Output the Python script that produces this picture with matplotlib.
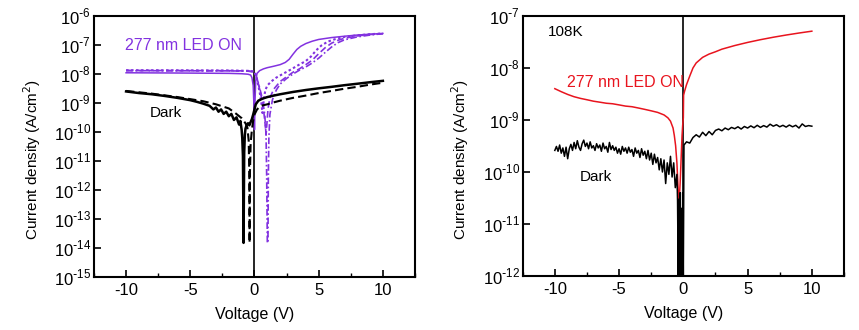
import matplotlib
matplotlib.use("Agg")
import matplotlib.pyplot as plt
from matplotlib.ticker import MultipleLocator, NullLocator, FuncFormatter
import numpy as np

plt.rcParams["font.family"] = ["Liberation Sans", "DejaVu Sans"]
plt.rcParams["axes.unicode_minus"] = False

PURPLE = "#8232E0"
RED = "#E8141E"

# ---- 左圖：dark (black) ----
dark_solid_v = [-10, -9, -8, -7, -6, -5, -4.5, -4, -3.5, -3.2, -3.0, -2.8, -2.6, -2.4, -2.2, -2.0,
                -1.8, -1.6, -1.4, -1.2, -1.1, -1.0, -0.95, -0.9, -0.87, -0.85, -0.83, -0.8, -0.75,
                -0.7, -0.6, -0.5, -0.4, -0.3, -0.2, -0.1, 0.0, 0.1, 0.3, 0.6, 1.0, 1.5, 2, 3, 4, 5,
                6, 7, 8, 9, 10]
dark_solid_j = [2.5e-9, 2.2e-9, 2.0e-9, 1.75e-9, 1.5e-9, 1.25e-9, 1.1e-9, 9.5e-10, 8e-10, 6e-10, 7e-10,
                5e-10, 6e-10, 4.2e-10, 5e-10, 3.5e-10, 4.2e-10, 2.6e-10, 3.2e-10, 1.8e-10, 2.4e-10,
                1.2e-10, 6e-11, 1.5e-11, 3e-13, 1.5e-14, 3e-13, 2e-11, 8e-11, 1.3e-10, 1.8e-10,
                2e-10, 1.7e-10, 2.2e-10, 2.8e-10, 4e-10, 6e-10, 9e-10, 1.2e-9, 1.4e-9, 1.6e-9,
                1.8e-9, 2.0e-9, 2.4e-9, 2.8e-9, 3.2e-9, 3.6e-9, 4.1e-9, 4.6e-9, 5.2e-9, 5.8e-9]

dark_dash_v = [-10, -8, -6, -4, -3, -2, -1.5, -1.0, -0.7, -0.55, -0.45, -0.4, -0.38, -0.36, -0.3,
               -0.2, -0.1, 0.0, 0.2, 0.5, 1.0, 1.5, 2, 3, 4, 5, 6, 7, 8, 9, 10]
dark_dash_j = [2.6e-9, 2.1e-9, 1.6e-9, 1.15e-9, 9e-10, 6.5e-10, 4.5e-10, 3e-10, 2e-10, 1.4e-10,
               5e-11, 3e-12, 1.5e-14, 3e-12, 4e-11, 1.2e-10, 2.5e-10, 4e-10, 6e-10, 8e-10, 9e-10,
               1.05e-9, 1.2e-9, 1.5e-9, 1.8e-9, 2.2e-9, 2.6e-9, 3.1e-9, 3.6e-9, 4.3e-9, 5e-9]

# ---- 左圖：277 nm LED ON (purple) ----
on_solid_v = [-10, -6, -2, -1, -0.5, -0.3, -0.2, -0.1, -0.05, 0.0, 0.05, 0.1, 0.2, 0.4, 0.7, 1.0,
              1.5, 2.0, 2.4, 2.7, 3.0, 3.3, 3.6, 4.0, 4.5, 5, 6, 7, 8, 9, 10]
on_solid_j = [1.1e-8, 1.08e-8, 1.05e-8, 1.02e-8, 9.8e-9, 9.2e-9, 7.5e-9, 4e-9, 1e-9, 1.2e-10,
              1.5e-9, 6e-9, 1.05e-8, 1.3e-8, 1.5e-8, 1.65e-8, 1.85e-8, 2.1e-8, 2.5e-8, 3.2e-8,
              4.8e-8, 7e-8, 9e-8, 1.12e-7, 1.35e-7, 1.55e-7, 1.8e-7, 2.0e-7, 2.2e-7, 2.35e-7, 2.5e-7]

on_dot_v = [-10, -6, -2, -1, -0.3, 0.0, 0.15, 0.3, 0.45, 0.55, 0.62, 0.68, 0.75, 0.85, 1.0, 1.3,
            1.7, 2.2, 2.8, 3.4, 4.0, 4.4, 4.8, 5.2, 5.7, 6.3, 7, 8, 9, 10]
on_dot_j = [1.35e-8, 1.34e-8, 1.32e-8, 1.3e-8, 1.28e-8, 1.2e-8, 8e-9, 4e-9, 1.8e-9, 9e-10,
            4.5e-10, 8e-10, 1.6e-9, 2.8e-9, 4e-9, 5.5e-9, 7.5e-9, 1e-8, 1.4e-8, 2e-8, 2.8e-8,
            4e-8, 6.5e-8, 9.5e-8, 1.3e-7, 1.6e-7, 1.9e-7, 2.15e-7, 2.35e-7, 2.5e-7]

on_dash_v = [-10, -6, -2, -0.5, 0.0, 0.2, 0.4, 0.6, 0.75, 0.85, 0.9, 0.95, 1.05, 1.2, 1.5, 2.0,
             2.5, 3.0, 3.5, 4.0, 4.5, 5.0, 5.5, 6.0, 6.5, 7, 8, 9, 10]
on_dash_j = [1.32e-8, 1.31e-8, 1.3e-8, 1.27e-8, 1.2e-8, 7e-9, 3e-9, 1.2e-9, 4e-10, 1.5e-10,
             8e-11, 1.5e-10, 6e-10, 1.5e-9, 3e-9, 5.5e-9, 8e-9, 1.15e-8, 1.5e-8, 2.1e-8, 3e-8,
             5e-8, 8e-8, 1.15e-7, 1.45e-7, 1.7e-7, 2.05e-7, 2.3e-7, 2.45e-7]

on_dashdot_v = [-10, -6, -2, -0.5, 0.0, 0.3, 0.6, 0.8, 0.9, 0.95, 1.0, 1.02, 1.05, 1.08, 1.12,
                1.2, 1.4, 1.7, 2.0, 2.5, 3.0, 3.5, 4.0, 4.5, 5.0, 5.5, 6.0, 6.5, 7, 8, 9, 10]
on_dashdot_j = [1.3e-8, 1.29e-8, 1.28e-8, 1.25e-8, 1.15e-8, 5e-9, 1.5e-9, 4e-10, 8e-11, 3e-12,
                1.5e-14, 1.5e-14, 1.5e-14, 3e-12, 6e-11, 4e-10, 1.3e-9, 2.8e-9, 4.5e-9, 7e-9,
                1e-8, 1.35e-8, 1.75e-8, 2.4e-8, 3.5e-8, 5.5e-8, 8.5e-8, 1.2e-7, 1.5e-7, 1.9e-7,
                2.2e-7, 2.45e-7]

# ---- 右圖 108K ----
red_v = [-10, -9.5, -9, -8.5, -8, -7.5, -7, -6.5, -6, -5.5, -5, -4.5, -4, -3.5, -3, -2.5, -2,
         -1.5, -1.2, -1.0, -0.8, -0.7, -0.6, -0.5, -0.45, -0.4, -0.35, -0.3, -0.25, -0.2, -0.15,
         -0.1, -0.05, 0.0, 0.02, 0.1, 0.25, 0.5, 0.75, 1.0, 1.5, 2, 2.5, 3, 4, 5, 6, 7, 8, 9, 10]
red_j = [4.0e-9, 3.5e-9, 3.1e-9, 2.8e-9, 2.6e-9, 2.45e-9, 2.3e-9, 2.2e-9, 2.1e-9, 2.05e-9, 1.95e-9,
         1.85e-9, 1.8e-9, 1.7e-9, 1.6e-9, 1.5e-9, 1.4e-9, 1.25e-9, 1.1e-9, 9.5e-10, 7e-10,
         5e-10, 3.2e-10, 1.5e-10, 8e-11, 4.5e-11, 3e-11, 3.5e-11, 6e-11, 1.2e-10, 2.5e-10,
         5e-10, 8e-10, 1.1e-9, 3e-9, 3.6e-9, 4.8e-9, 7e-9, 1e-8, 1.25e-8, 1.6e-8, 1.85e-8,
         2.05e-8, 2.3e-8, 2.7e-8, 3.1e-8, 3.5e-8, 3.9e-8, 4.3e-8, 4.7e-8, 5.1e-8]

# dark @108K：(V, J / 1e-10)
dark_r = [
    (-10, 2.6), (-9.875, 3.1), (-9.75, 2.5), (-9.625, 3.3), (-9.5, 2.3), (-9.375, 2.9),
    (-9.25, 2.0), (-9.125, 3.0), (-9.0, 1.8), (-8.875, 2.8), (-8.75, 3.4), (-8.625, 2.6),
    (-8.5, 3.7), (-8.375, 2.8), (-8.25, 4.0), (-8.125, 3.0), (-8.0, 2.6), (-7.875, 3.5),
    (-7.75, 4.1), (-7.625, 3.1), (-7.5, 3.6), (-7.375, 2.8), (-7.25, 3.8), (-7.125, 2.9),
    (-7.0, 3.2), (-6.875, 2.6), (-6.75, 3.5), (-6.625, 2.9), (-6.5, 3.3), (-6.375, 2.5),
    (-6.25, 3.6), (-6.125, 2.8), (-6.0, 3.1), (-5.875, 2.4), (-5.75, 3.7), (-5.625, 2.7),
    (-5.5, 3.2), (-5.375, 2.6), (-5.25, 3.0), (-5.125, 2.3), (-5.0, 2.8), (-4.875, 2.2),
    (-4.75, 3.1), (-4.625, 2.5), (-4.5, 2.9), (-4.375, 2.3), (-4.25, 3.0), (-4.125, 2.4),
    (-4.0, 2.7), (-3.875, 2.0), (-3.75, 2.9), (-3.625, 2.3), (-3.5, 2.6), (-3.375, 1.9),
    (-3.25, 2.8), (-3.125, 2.1), (-3.0, 2.5), (-2.875, 1.8), (-2.75, 2.6), (-2.625, 1.7),
    (-2.5, 2.3), (-2.375, 1.4), (-2.25, 2.2), (-2.125, 1.5), (-2.0, 1.9), (-1.875, 1.1),
    (-1.75, 1.8), (-1.625, 1.0), (-1.5, 1.7), (-1.375, 0.6), (-1.25, 1.5), (-1.125, 0.9),
    (-1.0, 2.0), (-0.875, 0.8), (-0.75, 1.5), (-0.625, 0.5), (-0.5, 0.9), (-0.45, 0.28),
    (-0.4, 0.01), (-0.35, 0.3), (-0.3, 0.01), (-0.25, 0.4), (-0.2, 0.01), (-0.15, 0.2),
    (-0.1, 0.01), (-0.05, 0.4), (0.0, 0.01), (0.05, 3.3), (0.25, 3.8), (0.5, 3.6),
    (0.75, 4.6), (1.0, 5.2), (1.25, 4.7), (1.5, 5.8), (1.75, 5.0), (2.0, 6.0), (2.25, 5.2),
    (2.5, 6.3), (2.75, 6.7), (3.0, 6.2), (3.25, 7.0), (3.5, 6.5), (3.75, 7.2), (4.0, 6.8),
    (4.25, 7.4), (4.5, 6.7), (4.75, 7.5), (5.0, 7.0), (5.25, 7.7), (5.5, 7.1), (5.75, 7.9),
    (6.0, 7.2), (6.25, 7.8), (6.5, 7.3), (6.75, 8.3), (7.0, 7.6), (7.25, 8.1), (7.5, 7.4),
    (7.75, 7.9), (8.0, 7.3), (8.25, 8.0), (8.5, 7.4), (8.75, 7.9), (9.0, 7.0), (9.25, 8.4),
    (9.5, 7.5), (9.75, 7.8), (10, 7.6),
]
dark_r_v = [p[0] for p in dark_r]
dark_r_j = [p[1] * 1e-10 for p in dark_r]

x_ticks = [-10, -5, 0, 5, 10]
left_decades = [-15, -14, -13, -12, -11, -10, -9, -8, -7, -6]
right_decades = [-12, -11, -10, -9, -8, -7]


def log_label(y, pos):
    e = int(round(np.log10(y)))
    return r"10$^{\mathregular{%d}}$" % e if e >= 0 else r"10$^{\text{-}\mathregular{%d}}$" % (-e)


def style_axes(ax, decades):
    ax.set_yscale("log")
    ax.set_xlim(-12.5, 12.5)
    ax.set_ylim(10.0 ** decades[0], 10.0 ** decades[-1])
    ax.set_xticks(x_ticks)
    ax.xaxis.set_minor_locator(MultipleLocator(2.5))
    ax.set_yticks([10.0 ** d for d in decades])
    ax.yaxis.set_minor_locator(NullLocator())
    ax.yaxis.set_major_formatter(FuncFormatter(log_label))
    ax.tick_params(which="both", direction="in", top=False, right=False)
    ax.tick_params(axis="x", labelsize=12, pad=4)
    ax.tick_params(axis="y", labelsize=12, pad=2)
    ax.tick_params(which="major", length=5, width=1.2)
    ax.tick_params(which="minor", length=3, width=1.0)
    for s in ax.spines.values():
        s.set_linewidth(1.5)
    ax.axvline(0, color="black", lw=1.2, zorder=0)
    ax.set_xlabel("Voltage (V)", fontsize=11.5, labelpad=7)
    ax.set_ylabel("Current density (A/cm$^2$)", fontsize=11)
    ax.yaxis.set_label_coords(-0.16, 0.45)


fig = plt.figure(figsize=(8.59, 3.3), dpi=100)
ax1 = fig.add_axes([0.1094, 0.1606, 0.3737, 0.791])
ax2 = fig.add_axes([0.6085, 0.1636, 0.374, 0.788])

ax1.plot(on_solid_v, on_solid_j, color=PURPLE, lw=1.1, ls="-")
ax1.plot(on_dot_v, on_dot_j, color=PURPLE, lw=1.5, ls=(0, (1.2, 1.2)))
ax1.plot(on_dash_v, on_dash_j, color=PURPLE, lw=1.2, ls=(0, (4, 2)))
ax1.plot(on_dashdot_v, on_dashdot_j, color=PURPLE, lw=1.2, ls=(0, (4, 1.5, 1, 1.5)))
ax1.plot(dark_solid_v, dark_solid_j, color="black", lw=1.8, ls="-")
ax1.plot(dark_dash_v, dark_dash_j, color="black", lw=1.5, ls=(0, (4, 2)))
style_axes(ax1, left_decades)
ax1.text(0.097, 0.885, "277 nm LED ON", color=PURPLE, fontsize=11.5,
         transform=ax1.transAxes, va="center", ha="left")
ax1.text(0.174, 0.628, "Dark", color="black", fontsize=11,
         transform=ax1.transAxes, va="center", ha="left")

ax2.plot(red_v, red_j, color=RED, lw=1.1)
ax2.plot(dark_r_v, dark_r_j, color="black", lw=1.1)
style_axes(ax2, right_decades)
ax2.text(0.079, 0.938, "108K", color="black", fontsize=11,
         transform=ax2.transAxes, va="center", ha="left")
ax2.text(0.138, 0.746, "277 nm LED ON", color=RED, fontsize=11.5,
         transform=ax2.transAxes, va="center", ha="left")
ax2.text(0.178, 0.381, "Dark", color="black", fontsize=11,
         transform=ax2.transAxes, va="center", ha="left")

fig.savefig("out.png", dpi=100)
plt.close(fig)
